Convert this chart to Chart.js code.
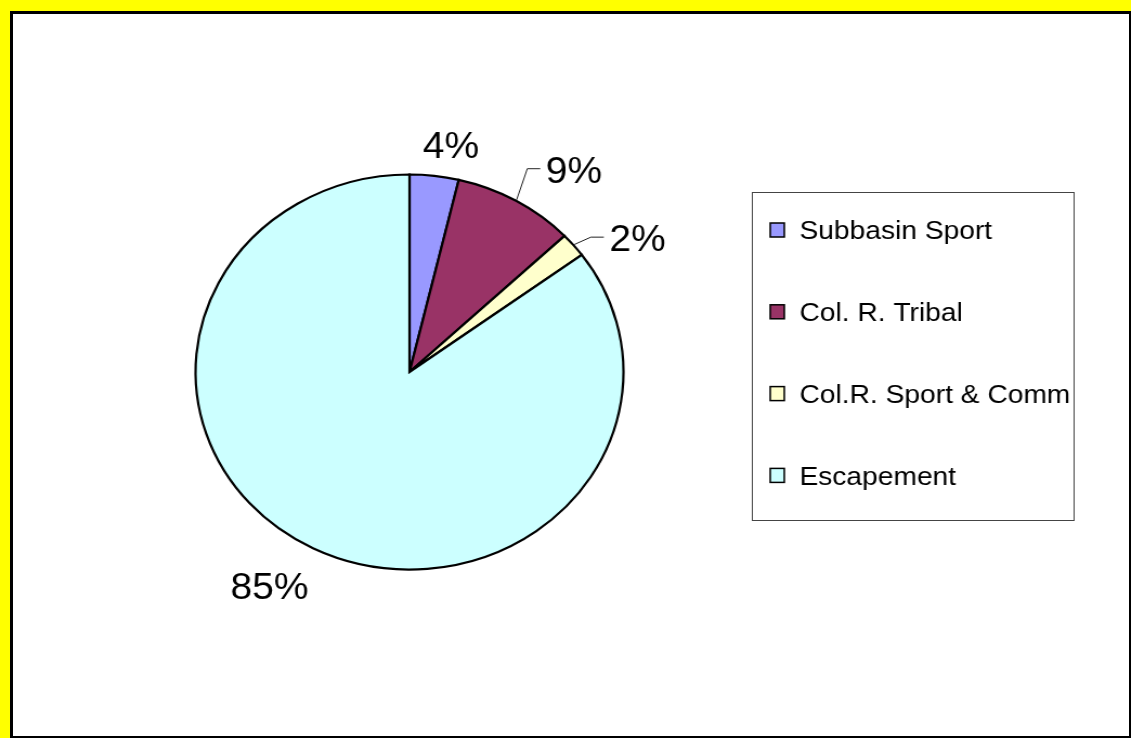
<!DOCTYPE html>
<html><head><meta charset="utf-8">
<script src="https://cdn.jsdelivr.net/npm/chart.js@4/dist/chart.umd.min.js"></script>
<style>
html,body{margin:0;padding:0;width:100%;height:100%;overflow:hidden;background:#ffff00;}
#frame{position:fixed;left:10px;top:11px;right:0;bottom:0;box-sizing:border-box;background:#fff;border-style:solid;border-color:#000;border-width:3px 2px 2px 3px;}
#wrap{position:fixed;left:0;top:0;width:1044px;height:738px;transform:scaleX(1.0833);transform-origin:0 0;}
canvas{display:block;}
</style></head><body>
<div id="frame"></div>
<div id="wrap"><canvas id="c" width="1044" height="738"></canvas></div>
<script>
const categories = ['Subbasin Sport', 'Col. R. Tribal', 'Col.R. Sport & Comm', 'Escapement'];
const shares = [3.7, 9.2, 2.0, 85.1];
const sliceColors = ['#9999FF', '#993366', '#FFFFCC', '#CCFFFF'];

const FONT = '"Liberation Sans", Arial, Helvetica, sans-serif';

const pieLabels = {
  id: 'pieLabels',
  afterDatasetsDraw(chart, args, opts) {
    const ctx = chart.ctx;
    const meta = chart.getDatasetMeta(0);
    const data = chart.data.datasets[0].data;
    const total = data.reduce((a, b) => a + b, 0);
    ctx.save();
    ctx.font = opts.size + 'px ' + FONT;
    ctx.fillStyle = '#000';
    ctx.textAlign = 'center';
    ctx.textBaseline = 'alphabetic';
    meta.data.forEach((arc, i) => {
      const p = arc.getProps(['x', 'y', 'startAngle', 'endAngle', 'outerRadius'], true);
      const mid = (p.startAngle + p.endAngle) / 2;
      const pl = opts.place[i];
      const a = mid + pl.dA * Math.PI / 180;
      const lx = p.x + pl.dist * Math.cos(a);
      const ly = p.y + pl.dist * Math.sin(a);
      const txt = Math.round(data[i] / total * 100) + '%';
      ctx.fillText(txt, lx, ly + opts.size * 0.358);
      if (pl.leader) {
        const w = ctx.measureText(txt).width;
        const left = lx - w / 2;
        const sx = p.x + (p.outerRadius + 1) * Math.cos(mid);
        const sy = p.y + (p.outerRadius + 1) * Math.sin(mid);
        ctx.beginPath();
        ctx.moveTo(sx, sy);
        ctx.lineTo(left - 17, ly - 1);
        ctx.lineTo(left - 5, ly - 1);
        ctx.strokeStyle = '#222';
        ctx.lineWidth = 1;
        ctx.stroke();
      }
    });
    ctx.restore();
  }
};

const boxLegend = {
  id: 'boxLegend',
  afterDraw(chart, args, opts) {
    const ctx = chart.ctx;
    const ds = chart.data.datasets[0];
    ctx.save();
    ctx.strokeStyle = '#444';
    ctx.lineWidth = 1;
    ctx.fillStyle = '#fff';
    ctx.fillRect(opts.left, opts.top, opts.width, opts.height);
    ctx.strokeRect(opts.left + 0.5, opts.top + 0.5, opts.width, opts.height);
    ctx.font = opts.size + 'px ' + FONT;
    ctx.textBaseline = 'alphabetic';
    ctx.textAlign = 'left';
    chart.data.labels.forEach((lab, i) => {
      const cy = opts.firstY + i * opts.step;
      ctx.fillStyle = ds.backgroundColor[i];
      ctx.fillRect(opts.boxX, cy - 7, 13, 14);
      ctx.strokeStyle = '#000';
      ctx.lineWidth = 1.5;
      ctx.strokeRect(opts.boxX, cy - 7, 13, 14);
      ctx.fillStyle = '#000';
      ctx.fillText(lab, opts.textX, cy + opts.size * 0.35);
    });
    ctx.restore();
  }
};

new Chart(document.getElementById('c'), {
  type: 'pie',
  data: {
    labels: categories,
    datasets: [{
      data: shares,
      backgroundColor: sliceColors,
      borderColor: '#000',
      borderWidth: 2.2,
      hoverOffset: 0,
      borderJoinStyle: 'miter'
    }]
  },
  options: {
    responsive: false,
    animation: false,
    events: [],
    radius: 197.5,
    layout: { padding: { left: 0, right: 288, top: 6, bottom: 0 } },
    plugins: {
      legend: { display: false },
      tooltip: { enabled: false },
      pieLabels: {
        size: 36,
        place: [
          { dA: 2.9, dist: 230.5, leader: false },
          { dA: 7.0, dist: 252.9, leader: true },
          { dA: 7.5, dist: 249.4, leader: true },
          { dA: 4.3, dist: 250.1, leader: false }
        ]
      },
      boxLegend: {
        left: 694, top: 192, width: 297, height: 328,
        boxX: 711, textX: 738, firstY: 230, step: 81.8, size: 26
      }
    }
  },
  plugins: [pieLabels, boxLegend]
});
</script>
</body></html>
